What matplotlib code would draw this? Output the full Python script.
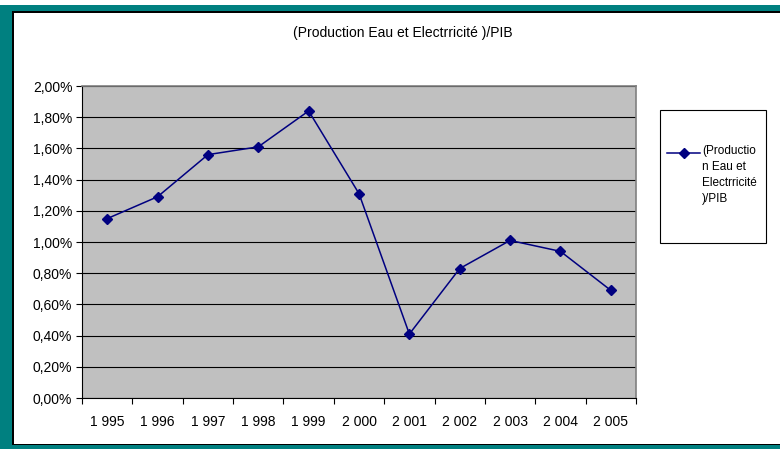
import matplotlib.pyplot as plt
import numpy as np
from matplotlib.patches import Rectangle
from matplotlib.lines import Line2D
from matplotlib.ticker import FixedLocator

plt.rcParams['font.family'] = ['Liberation Sans', 'DejaVu Sans']

years = ['1 995', '1 996', '1 997', '1 998', '1 999', '2 000',
         '2 001', '2 002', '2 003', '2 004', '2 005']
ratio = [1.15, 1.29, 1.56, 1.61, 1.84, 1.31, 0.41, 0.83, 1.01, 0.94, 0.69]
y_ticks = [0.0, 0.2, 0.4, 0.6, 0.8, 1.0, 1.2, 1.4, 1.6, 1.8, 2.0]

W, H = 780, 449
fig = plt.figure(figsize=(W / 100, H / 100), dpi=100)

# teal frame with black inner line
fig.patches.append(Rectangle((0, 0), 1, 1 - 5 / H, transform=fig.transFigure,
                             facecolor='#008080', edgecolor='none', zorder=0))
fig.patches.append(Rectangle((12 / W, 4 / H), 1, 1 - 15 / H, transform=fig.transFigure,
                             facecolor='black', edgecolor='none', zorder=0))
fig.patches.append(Rectangle((14 / W, 5 / H), 1, 1 - 18 / H, transform=fig.transFigure,
                             facecolor='white', edgecolor='none', zorder=0))

# plot area 82..636 x 86..398 px
ax = fig.add_axes([82 / W, 1 - 398 / H, (636 - 82) / W, (398 - 86) / H])
ax.set_zorder(1)
ax.set_facecolor('#C0C0C0')
x = np.arange(len(years))
ax.plot(x, ratio, color='#000080', lw=1.1, marker='D', ms=5, zorder=3)

ax.set_xlim(-0.5, len(years) - 0.5)
ax.set_ylim(0, 2.0)
ax.set_yticks(y_ticks)
ax.set_yticklabels([('%.2f%%' % v).replace('.', ',') for v in y_ticks], fontsize=10)
ax.set_xticks(x)
ax.set_xticklabels(years, fontsize=10)
ax.xaxis.set_minor_locator(FixedLocator(np.arange(-0.5, len(years), 1)))
ax.tick_params(axis='x', which='major', length=0, pad=12)
ax.tick_params(axis='x', which='minor', length=4, width=0.8, direction='out')
ax.tick_params(axis='y', length=4, width=0.8, direction='out', pad=3)
ax.grid(axis='y', color='black', lw=0.8)
ax.set_axisbelow(True)
for side in ['top', 'right']:
    ax.spines[side].set_color('#808080')
    ax.spines[side].set_linewidth(1.2)
for side in ['left', 'bottom']:
    ax.spines[side].set_color('black')
    ax.spines[side].set_linewidth(0.8)

fig.text(403 / W, 1 - 33 / H, '(Production Eau et Electrricité )/PIB',
         ha='center', va='center', fontsize=10)

# legend box
fig.patches.append(Rectangle((660 / W, 1 - 243 / H), (766 - 660) / W, (243 - 110) / H,
                             transform=fig.transFigure, facecolor='white',
                             edgecolor='black', lw=0.8, zorder=2))
fig.lines.append(Line2D([667 / W, 700 / W], [1 - 153 / H, 1 - 153 / H],
                        transform=fig.transFigure, color='#000080', lw=1.1, zorder=3))
fig.lines.append(Line2D([683.5 / W], [1 - 153 / H], transform=fig.transFigure,
                        color='#000080', marker='D', ms=5, zorder=4))
fig.text(702 / W, 1 - 145 / H, '(Productio\nn Eau et\nElectrricité\n)/PIB',
         ha='left', va='top', fontsize=8.5, linespacing=1.45, zorder=5)

fig.savefig('out.png', dpi=100)
